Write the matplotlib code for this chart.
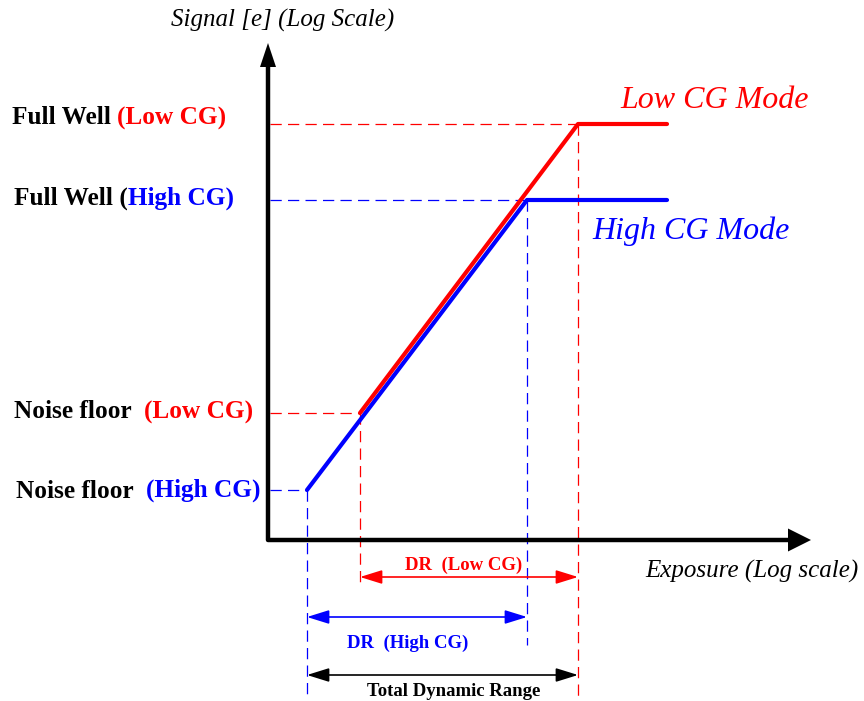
import matplotlib
matplotlib.use("Agg")
import matplotlib.pyplot as plt
from matplotlib.patches import FancyArrowPatch

# ---- schematic data (exposure / signal in arbitrary log units) ----
exp_start_high = 39     # exposure at noise floor, High CG
exp_start_low = 92      # exposure at noise floor, Low CG
exp_sat_high = 259      # exposure at full well, High CG
exp_sat_low = 310       # exposure at full well, Low CG
exp_end = 399           # end of drawn curves

noise_high = 50         # noise floor, High CG
noise_low = 127         # noise floor, Low CG
fw_high = 340           # full well, High CG
fw_low = 416            # full well, Low CG

high_x = [exp_start_high, exp_sat_high, exp_end]
high_y = [noise_high, fw_high, fw_high]
low_x = [exp_start_low, exp_sat_low, exp_end]
low_y = [noise_low, fw_low, fw_low]

x_axis_end = 543
y_axis_end = 497

row_dr_low = -37
row_dr_high = -77
row_total = -135

RED = "#ff0000"
BLUE = "#0000ff"
SERIF = ["Liberation Serif", "DejaVu Serif"]

fig = plt.figure(figsize=(8.64, 7.01), dpi=100)
ax = fig.add_axes([0, 0, 1, 1])
ax.set_xlim(-268, 596)
ax.set_ylim(-161, 540)
ax.axis("off")

dash = (0, (9, 5))

# horizontal guide lines
ax.plot([2, exp_sat_low], [fw_low, fw_low], color=RED, lw=0.9, ls=dash, zorder=1)
ax.plot([2, exp_sat_high], [fw_high, fw_high], color=BLUE, lw=0.9, ls=dash, zorder=1)
ax.plot([2, exp_start_low], [noise_low, noise_low], color=RED, lw=0.9, ls=dash, zorder=1)
ax.plot([2, exp_start_high], [noise_high, noise_high], color=BLUE, lw=0.9, ls=dash, zorder=1)

# vertical guide lines
ax.plot([exp_start_high, exp_start_high], [noise_high, -160], color=BLUE, lw=0.9, ls=dash, zorder=1)
ax.plot([exp_start_low, exp_start_low], [noise_low, -43], color=RED, lw=0.9, ls=dash, zorder=1)
ax.plot([exp_sat_high, exp_sat_high], [fw_high, -105], color=BLUE, lw=0.9, ls=dash, zorder=1)
ax.plot([exp_sat_low, exp_sat_low], [fw_low, -160], color=RED, lw=0.9, ls=dash, zorder=1)

# curves
ax.plot(high_x, high_y, color=BLUE, lw=3, solid_capstyle="round", solid_joinstyle="round", zorder=3)
ax.plot(low_x, low_y, color=RED, lw=3, solid_capstyle="round", solid_joinstyle="round", zorder=4)

# axes: L-shaped polyline + filled arrow heads
y_head_len, y_head_half = 24, 8
x_head_len, x_head_half = 23, 11.5
ax.plot([0, 0, x_axis_end - x_head_len + 2], [y_axis_end - y_head_len + 2, 0, 0],
        color="black", lw=3.2, solid_joinstyle="round", solid_capstyle="butt", zorder=5)
ax.fill([-y_head_half, 0, y_head_half], [y_axis_end - y_head_len, y_axis_end, y_axis_end - y_head_len],
        color="black", lw=0, zorder=5)
ax.fill([x_axis_end - x_head_len, x_axis_end, x_axis_end - x_head_len], [-x_head_half, 0, x_head_half],
        color="black", lw=0, zorder=5)

# range arrows
def range_arrow(x0, x1, y, color):
    a = FancyArrowPatch((x0, y), (x1, y), arrowstyle="<|-|>,head_length=1.35,head_width=0.42",
                        mutation_scale=10, lw=1.2, color=color, shrinkA=0, shrinkB=0, zorder=5)
    ax.add_patch(a)

range_arrow(exp_start_low, exp_sat_low, row_dr_low, RED)
range_arrow(exp_start_high, exp_sat_high, row_dr_high, BLUE)
range_arrow(exp_start_high, exp_sat_low, row_total, "black")

# range labels
ax.text(196, row_dr_low + 12, "DR  (Low CG)", color=RED, fontsize=13.5, fontweight="bold",
        family=SERIF, ha="center", va="center")
ax.text(140, -103, "DR  (High CG)", color=BLUE, fontsize=13.5, fontweight="bold",
        family=SERIF, ha="center", va="center")
ax.text(186, -152, "Total Dynamic Range", color="black", fontsize=13.5, fontweight="bold",
        family=SERIF, ha="center", va="center")

# axis labels
ax.text(15, 520, "Signal [e] (Log Scale)", fontsize=18, style="italic", family=SERIF,
        ha="center", va="center")
ax.text(377, -31, "Exposure (Log scale)", fontsize=18, style="italic", family=SERIF,
        ha="left", va="center")

# mode labels
ax.text(352, 440, "Low CG Mode", color=RED, fontsize=23, style="italic", family=SERIF,
        ha="left", va="center")
ax.text(324, 309, "High CG Mode", color=BLUE, fontsize=23, style="italic", family=SERIF,
        ha="left", va="center")

# left level labels (two-colour)
def level_label(x, y, black_part, color_part, color):
    t1 = ax.text(x, y, black_part, fontsize=18.2, fontweight="bold", family=SERIF,
                 color="black", ha="left", va="center")
    ax.annotate(color_part, xy=(1, 0), xycoords=t1, fontsize=18.2, fontweight="bold",
                family=SERIF, color=color, ha="left", va="bottom")

level_label(-256, 422, "Full Well ", "(Low CG)", RED)
level_label(-254, 342, "Full Well (", "High CG)", BLUE)
level_label(-254, 128, "Noise floor  ", "(Low CG)", RED)
level_label(-252, 49, "Noise floor  ", "(High CG)", BLUE)

fig.savefig("out.png", dpi=100)
